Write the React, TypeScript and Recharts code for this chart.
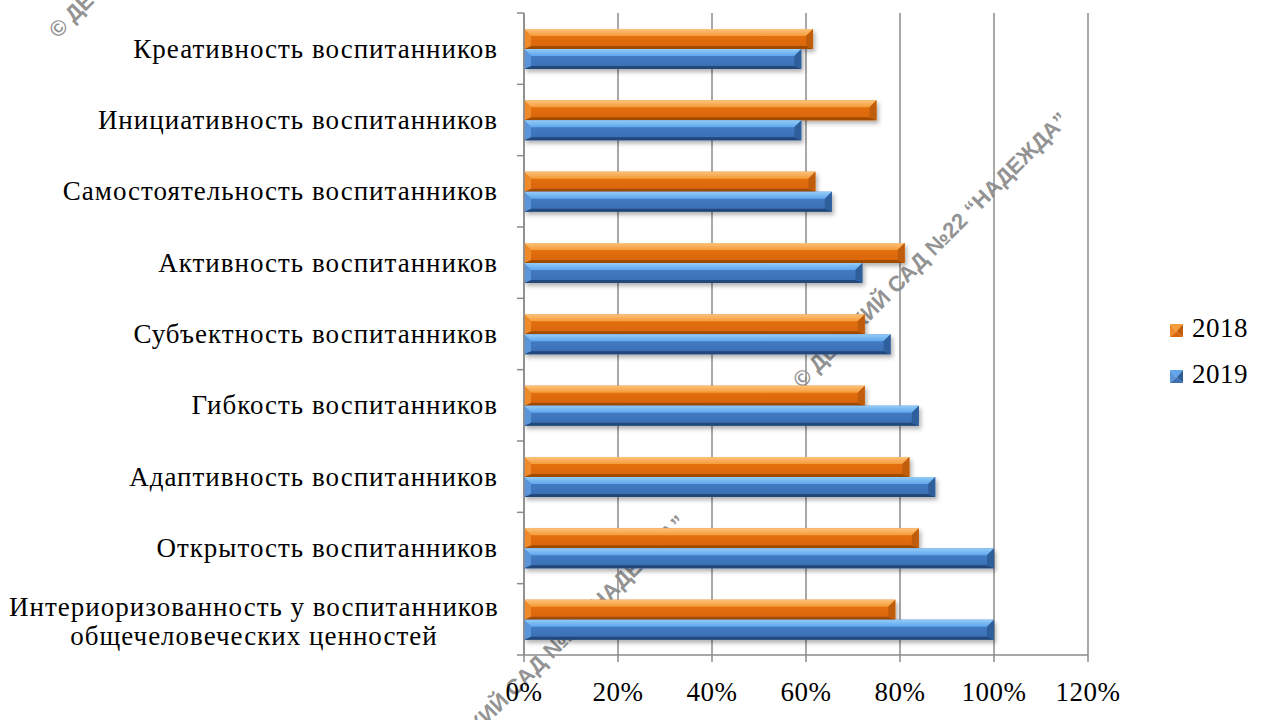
import React from "react";
import { BarChart, Bar, XAxis, YAxis, CartesianGrid } from "recharts";

// categories top to bottom, as in the picture
const categories = [
  "Креативность воспитанников",
  "Инициативность воспитанников",
  "Самостоятельность воспитанников",
  "Активность воспитанников",
  "Субъектность воспитанников",
  "Гибкость воспитанников",
  "Адаптивность воспитанников",
  "Открытость воспитанников",
  "Интериоризованность у воспитанников\nобщечеловеческих ценностей",
];

const values2018 = [0.615, 0.75, 0.62, 0.81, 0.725, 0.725, 0.82, 0.84, 0.79];
const values2019 = [0.59, 0.59, 0.655, 0.72, 0.78, 0.84, 0.875, 1.0, 1.0];

const seriesNames = ["2018", "2019"];
const xTicks = [0, 0.2, 0.4, 0.6, 0.8, 1.0, 1.2];

const watermarkText = "© ДЕТСКИЙ САД  №22 “НАДЕЖДА”";

const data = categories.map((name, i) => ({
  name,
  y2018: values2018[i],
  y2019: values2019[i],
}));

const W = 1266;
const H = 720;
const MARGIN = { top: 13, right: 178, left: 0, bottom: 0 };
const Y_AXIS_W = 524;
const X_AXIS_H = 65;
const BAND = (H - MARGIN.top - MARGIN.bottom - X_AXIS_H) / categories.length;

const GRID = "#8b8b8b";
const SERIF = "Liberation Serif, Times New Roman, DejaVu Serif, serif";

const TONES: Record<string, any> = {
  orange: {
    topA: "#fcc27a",
    topB: "#f59b38",
    faceA: "#e8740f",
    faceB: "#d9650a",
    left: "#ee8a2a",
    right: "#c05d08",
    bottom: "#a14c06",
  },
  blue: {
    topA: "#92cbf8",
    topB: "#5fa6ec",
    faceA: "#4682cc",
    faceB: "#3a6db1",
    left: "#5a95da",
    right: "#2f5f9b",
    bottom: "#22467a",
  },
};

function BevelBar(props: any) {
  const { x, y, width, height, tone } = props;
  if (!width || width <= 0) return null;
  const t = TONES[tone];
  const b = Math.min(7, width / 2);
  const b2 = 3;
  const r = x + width;
  const btm = y + height;
  return (
    <g filter="url(#barShadow)">
      <rect x={x} y={y} width={width} height={height} fill={`url(#face-${tone})`} />
      <polygon points={`${x},${y} ${r},${y} ${r - b},${y + b} ${x + b},${y + b}`} fill={`url(#top-${tone})`} />
      <polygon points={`${x},${btm} ${r},${btm} ${r - b},${btm - b2} ${x + b},${btm - b2}`} fill={t.bottom} />
      <polygon points={`${x},${y} ${x + b},${y + b} ${x + b},${btm - b2} ${x},${btm}`} fill={t.left} />
      <polygon points={`${r},${y} ${r - b},${y + b} ${r - b},${btm - b2} ${r},${btm}`} fill={t.right} />
    </g>
  );
}

function CategoryTick(props: any) {
  const { x, y, payload, index } = props;
  const lines = String(payload.value).split("\n");
  const axisX = x + 26;
  const top = y - BAND / 2;
  return (
    <g>
      <line x1={axisX - 7} x2={axisX} y1={top} y2={top} stroke={GRID} strokeWidth={1.5} />
      {index === categories.length - 1 && (
        <line x1={axisX - 7} x2={axisX} y1={y + BAND / 2} y2={y + BAND / 2} stroke={GRID} strokeWidth={1.5} />
      )}
      {lines.length === 1 ? (
        <text x={x} y={y + 9} textAnchor="end" fontFamily={SERIF} fontSize={27} letterSpacing={1} fill="#000">
          {lines[0]}
        </text>
      ) : (
        <text textAnchor="middle" fontFamily={SERIF} fontSize={27} letterSpacing={1} fill="#000">
          {lines.map((l, i) => (
            <tspan key={i} x={x - 244} y={y - 3 + i * 29}>
              {l}
            </tspan>
          ))}
        </text>
      )}
    </g>
  );
}

function LegendMarker({ x, y, tone }: { x: number; y: number; tone: string }) {
  const t = TONES[tone];
  const s = 13;
  const cx = x + s / 2;
  const cy = y + s / 2 + 1;
  return (
    <g>
      <polygon points={`${x},${y} ${x + s},${y} ${cx},${cy}`} fill={t.topB} />
      <polygon points={`${x},${y} ${cx},${cy} ${x},${y + s}`} fill={t.left} />
      <polygon points={`${x + s},${y} ${cx},${cy} ${x + s},${y + s}`} fill={t.right} />
      <polygon points={`${x},${y + s} ${cx},${cy} ${x + s},${y + s}`} fill={t.faceB} />
    </g>
  );
}

function Gradients() {
  return (
    <defs>
      {Object.keys(TONES).map((k) => (
        <React.Fragment key={k}>
          <linearGradient id={`top-${k}`} x1="0" y1="0" x2="0" y2="1">
            <stop offset="0%" stopColor={TONES[k].topA} />
            <stop offset="100%" stopColor={TONES[k].topB} />
          </linearGradient>
          <linearGradient id={`face-${k}`} x1="0" y1="0" x2="0" y2="1">
            <stop offset="0%" stopColor={TONES[k].faceA} />
            <stop offset="100%" stopColor={TONES[k].faceB} />
          </linearGradient>
        </React.Fragment>
      ))}
      <filter id="barShadow" x="-5%" y="-30%" width="110%" height="180%">
        <feDropShadow dx="2" dy="3" stdDeviation="2" floodColor="#000" floodOpacity="0.3" />
      </filter>
    </defs>
  );
}

const watermarkStarts = [
  [58, 39],
  [802, 389],
  [420, 792],
];

export default function App() {
  const tones = ["orange", "blue"];
  return (
    <div style={{ position: "absolute", left: 0, top: 0, width: W, height: H, background: "#fff" }}>
      <svg width={W} height={H} style={{ position: "absolute", left: 0, top: 0, zIndex: 0 }}>
        <Gradients />
        {watermarkStarts.map(([wx, wy], i) => (
          <text
            key={i}
            x={wx}
            y={wy}
            transform={`rotate(-45 ${wx} ${wy})`}
            fontFamily="Liberation Sans, Arial, sans-serif"
            fontWeight={700}
            fontSize={22}
            fill="#939393"
          >
            {watermarkText}
          </text>
        ))}
      </svg>
      <div style={{ position: "absolute", left: 0, top: 0, zIndex: 1 }}>
        <BarChart width={W} height={H} data={data} layout="vertical" margin={MARGIN} barSize={20} barGap={0}>
          <CartesianGrid horizontal={false} stroke={GRID} strokeWidth={1.5} />
          <XAxis
            type="number"
            domain={[0, 1.2]}
            ticks={xTicks}
            interval={0}
            height={X_AXIS_H}
            tickFormatter={(v: number) => `${Math.round(v * 100)}%`}
            tick={{ fontFamily: SERIF, fontSize: 27, fill: "#000", letterSpacing: 0.5 }}
            tickSize={7}
            tickMargin={20}
            stroke={GRID}
            axisLine={{ stroke: GRID, strokeWidth: 1.5 }}
            tickLine={{ stroke: GRID, strokeWidth: 1.5 }}
          />
          <YAxis
            type="category"
            dataKey="name"
            width={Y_AXIS_W}
            interval={0}
            tickLine={false}
            tickSize={0}
            tickMargin={26}
            axisLine={{ stroke: GRID, strokeWidth: 1.5 }}
            tick={<CategoryTick />}
          />
          <Bar dataKey="y2018" name={seriesNames[0]} isAnimationActive={false} shape={(p: any) => <BevelBar {...p} tone="orange" />} />
          <Bar dataKey="y2019" name={seriesNames[1]} isAnimationActive={false} shape={(p: any) => <BevelBar {...p} tone="blue" />} />
        </BarChart>
      </div>
      <svg width={W} height={H} style={{ position: "absolute", left: 0, top: 0, zIndex: 2, pointerEvents: "none" }}>
        {seriesNames.map((s, i) => (
          <g key={s}>
            <LegendMarker x={1170} y={324 + i * 46} tone={tones[i]} />
            <text x={1192} y={337 + i * 46} fontFamily={SERIF} fontSize={27} letterSpacing={0.5} fill="#000">
              {s}
            </text>
          </g>
        ))}
      </svg>
    </div>
  );
}
